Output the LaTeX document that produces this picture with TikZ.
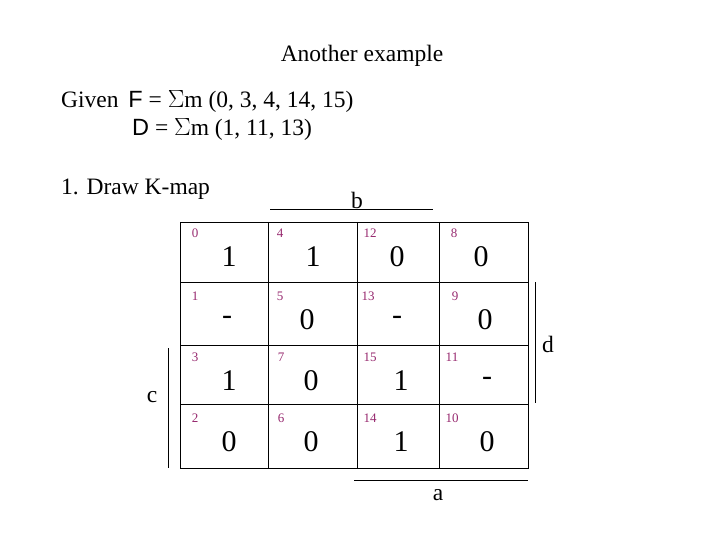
\documentclass[tikz,border=0pt]{standalone}
\usepackage{fontspec}
\setmainfont{Liberation Serif}
\newfontfamily\arial{Liberation Sans}
\definecolor{idx}{RGB}{150,40,110}
\begin{document}
\begin{tikzpicture}[x=1pt,y=-1pt,
  txt/.style={inner sep=0pt,font=\fontsize{23.5}{26}\selectfont},
  val/.style={inner sep=0pt,font=\fontsize{30}{32}\selectfont},
  idxs/.style={inner sep=0pt,font=\fontsize{13}{14}\selectfont,text=idx},
  bar/.style={line width=1pt}]
\useasboundingbox (0,0) rectangle (720,540);
\node[txt] (title) at (362,56) {Another example};
\node[txt,anchor=west] (g1) at (61,102) {Given\, {\arial F} = $\Sigma$m (0, 3, 4, 14, 15)};
\node[txt,anchor=west] (g2) at (132,130) {{\arial D} = $\Sigma$m (1, 11, 13)};
\node[txt,anchor=west] (dk) at (61,189) {1. Draw K-map};
% grid
\draw[line width=0.8pt] (180,222) rectangle (528,468);
\foreach \x in {268,357,439} \draw[line width=0.8pt] (\x,222) -- (\x,468);
\foreach \y in {282,345,404} \draw[line width=0.8pt] (180,\y) -- (528,\y);
% bars
\coordinate (b1) at (270,210); \coordinate (b2) at (433,210);
\coordinate (a1) at (354,480); \coordinate (a2) at (528,480);
\coordinate (c1) at (168,348); \coordinate (c2) at (168,468);
\coordinate (d1) at (535,282); \coordinate (d2) at (535,403);
\draw[bar] (b1) -- (b2); \draw[bar] (a1) -- (a2);
\draw[bar] (c1) -- (c2); \draw[bar] (d1) -- (d2);
\node[txt] (lb) at (357,200) {b};
\node[txt] (la) at (438,495) {a};
\node[txt] (lc) at (152,397) {c};
\node[txt] (ld) at (548,344) {d};
% cells
\foreach \i/\x/\y/\v/\vx in {0/195/233/1/229, 4/280/233/1/313, 12/370/233/0/397, 8/454/233/0/481,
  1/195/296/-/227, 5/280/296/0/307, 13/368/296/-/397, 9/455/296/0/485,
  3/195/357/1/229, 7/281/357/0/311, 15/370/357/1/401, 11/452/357/-/487,
  2/195/418/0/229, 6/281/418/0/311, 14/370/418/1/401, 10/452/418/0/487}{
  \node[idxs] (n\i) at (\x,\y) {\i};
  \node[val] (v\i) at (\vx,\y+24) {\v};
}
\end{tikzpicture}
\end{document}
